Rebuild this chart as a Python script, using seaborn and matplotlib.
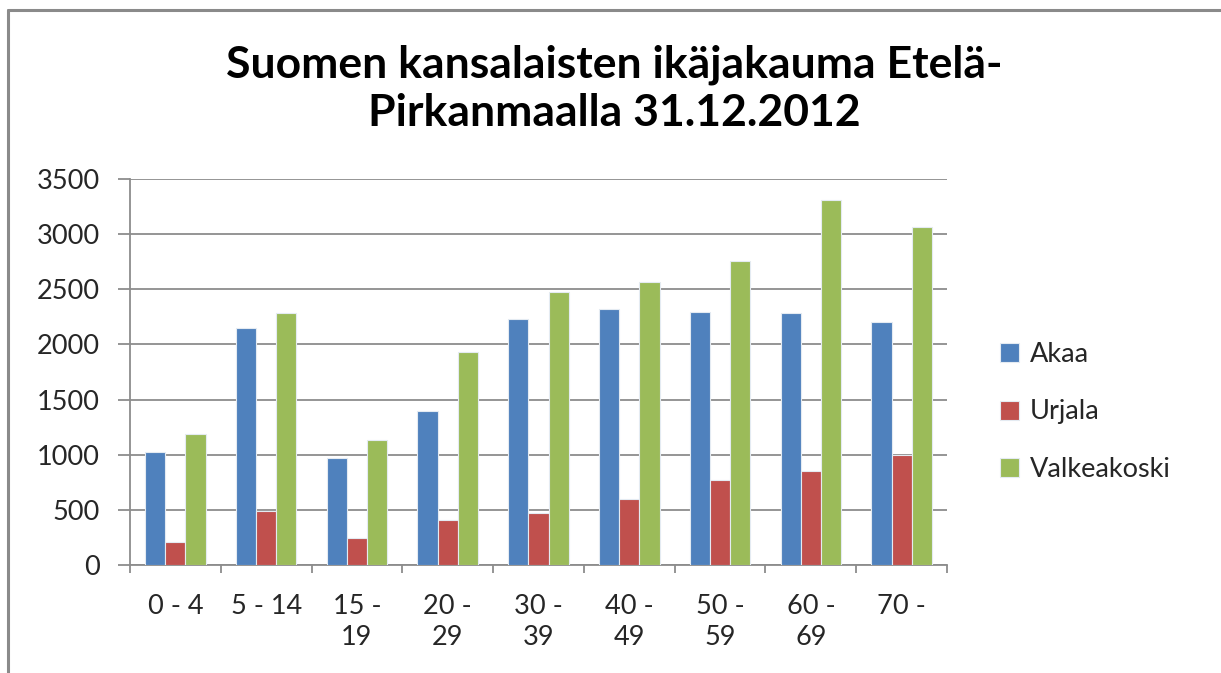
import pandas as pd
import matplotlib
matplotlib.use('Agg')
import matplotlib.pyplot as plt
from matplotlib.lines import Line2D
from matplotlib.patches import Patch
import seaborn as sns

# ikäryhmät ja kuntien arvot (luettu kuvasta)
age_groups = ['0 - 4', '5 - 14', '15 -\n19', '20 -\n29', '30 -\n39',
              '40 -\n49', '50 -\n59', '60 -\n69', '70 -']
akaa = [1025, 2150, 974, 1394, 2232, 2325, 2295, 2286, 2204]
urjala = [206, 493, 245, 408, 475, 596, 771, 853, 1001]
valkeakoski = [1188, 2286, 1137, 1932, 2471, 2567, 2758, 3311, 3066]
series_names = ['Akaa', 'Urjala', 'Valkeakoski']
colors = ['#4F81BD', '#C0504D', '#9BBB59']

rows = []
for name, vals in zip(series_names, [akaa, urjala, valkeakoski]):
    for g, v in zip(age_groups, vals):
        rows.append({'ika': g, 'kunta': name, 'maara': v})
df = pd.DataFrame(rows)

sns.set_theme(style='white')
plt.rcParams['font.family'] = ['Lato', 'DejaVu Sans']
text_color = '#262626'
grid_color = '#8C8C8C'

fig = plt.figure(figsize=(12.21, 6.73), dpi=100)
ax = fig.add_axes([130 / 1221, 1 - 565 / 673, 817 / 1221, 386 / 673])

sns.barplot(data=df, x='ika', y='maara', hue='kunta', order=age_groups,
            hue_order=series_names, palette=colors, saturation=1, width=0.667, gap=0,
            edgecolor='#E4EBF2', linewidth=0.8, ax=ax, legend=False, zorder=3)

ax.set_ylim(0, 3500)
ax.set_xlim(-0.5, len(age_groups) - 0.5)
ax.set_yticks(range(0, 3501, 500))
ax.yaxis.grid(True, color=grid_color, linewidth=1.3, zorder=0)
ax.set_axisbelow(True)
ax.set_xlabel('')
ax.set_ylabel('')

for side in ['top', 'right']:
    ax.spines[side].set_visible(False)
for side in ['left', 'bottom']:
    ax.spines[side].set_color(grid_color)
    ax.spines[side].set_linewidth(1.3)

ax.tick_params(axis='y', which='major', direction='out', length=8.6, width=1.3,
               color=grid_color, pad=13, labelsize=19.5, labelcolor=text_color, left=True)
ax.set_xticks([i - 0.5 for i in range(len(age_groups) + 1)], minor=True)
ax.tick_params(axis='x', which='minor', direction='out', length=6, width=1.3,
               color=grid_color, bottom=True)
ax.tick_params(axis='x', which='major', length=0, pad=21, labelsize=19.5,
               labelcolor=text_color)
for lbl in ax.get_xticklabels():
    lbl.set_verticalalignment('top')
    lbl.set_linespacing(1.3)

fig.text(614 / 1221, 1 - 89 / 673, 'Suomen kansalaisten ikäjakauma Etelä-\nPirkanmaalla 31.12.2012',
         ha='center', va='center', fontsize=32, fontweight='bold', color='black',
         linespacing=1.25)

handles = [Patch(facecolor=c, edgecolor='#E4EBF2', linewidth=0.8) for c in colors]
fig.legend(handles, series_names, loc='center left',
           bbox_to_anchor=(976 / 1221, 1 - 412 / 673), frameon=False,
           fontsize=19.5, handlelength=0.7, handleheight=0.7, handletextpad=0.4,
           labelspacing=1.2, labelcolor=text_color)

# harmaa kehys vasemmalla ja ylhäällä
fig.add_artist(Line2D([8 / 1221, 8 / 1221], [0, 1 - 10 / 673], color='#8A8A8A',
                      linewidth=2.2, transform=fig.transFigure))
fig.add_artist(Line2D([8 / 1221, 1], [1 - 10 / 673, 1 - 10 / 673], color='#8A8A8A',
                      linewidth=2.2, transform=fig.transFigure))

fig.savefig('out.png', dpi=100, facecolor='white')
